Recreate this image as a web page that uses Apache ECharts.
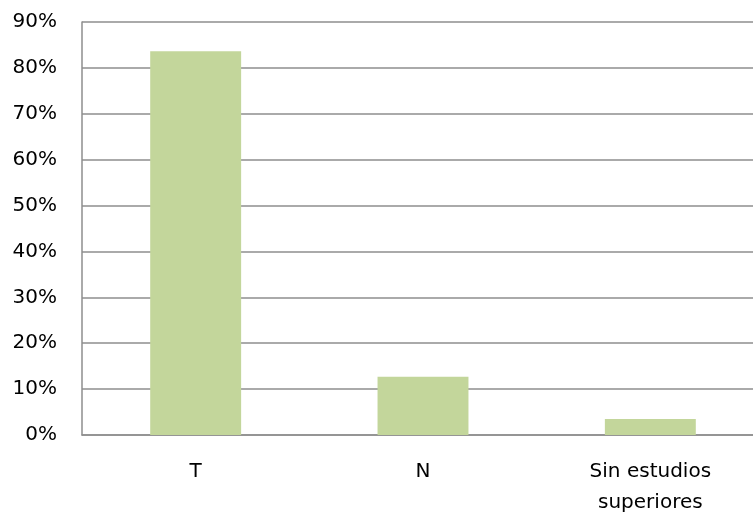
<!DOCTYPE html>
<html>
<head>
<meta charset="utf-8">
<style>
  html, body { margin: 0; padding: 0; background: #fff; }
  #chart { width: 753px; height: 514px; }
</style>
<script src="https://cdn.jsdelivr.net/npm/echarts@6/dist/echarts.min.js"></script>
</head>
<body>
<div id="chart"></div>
<script>
  // categorias y valores (%)
  var categories = ['T', 'N', 'Sin estudios\nsuperiores']
  var values = [83.6, 12.7, 3.5]
  var yMax = 90
  var yStep = 10

  var lineColor = '#8e8e8e'

  var chart = echarts.init(document.getElementById('chart'))
  chart.setOption({
    animation: false,
    grid: {
      left: 82,
      right: -11,
      top: 22,
      bottom: 79,
      containLabel: false,
      outerBoundsMode: 'none'
    },
    xAxis: {
      type: 'category',
      data: categories,
      axisTick: { show: false },
      axisLine: { lineStyle: { color: lineColor, width: 1.5 } },
      axisLabel: {
        color: '#000',
        fontFamily: 'DejaVu Sans',
        fontSize: 20,
        margin: 21,
        lineHeight: 31
      }
    },
    yAxis: {
      type: 'value',
      min: 0,
      max: yMax,
      interval: yStep,
      axisLine: { show: true, lineStyle: { color: lineColor, width: 1.5 } },
      axisTick: { show: false },
      splitLine: { lineStyle: { color: lineColor, width: 1.5 } },
      axisLabel: {
        color: '#000',
        fontFamily: 'DejaVu Sans',
        fontSize: 20,
        margin: 25,
        formatter: '{value}%'
      }
    },
    series: [
      {
        type: 'bar',
        data: values,
        barWidth: '40%',
        itemStyle: { color: '#C3D69B' }
      }
    ]
  })
</script>
</body>
</html>
